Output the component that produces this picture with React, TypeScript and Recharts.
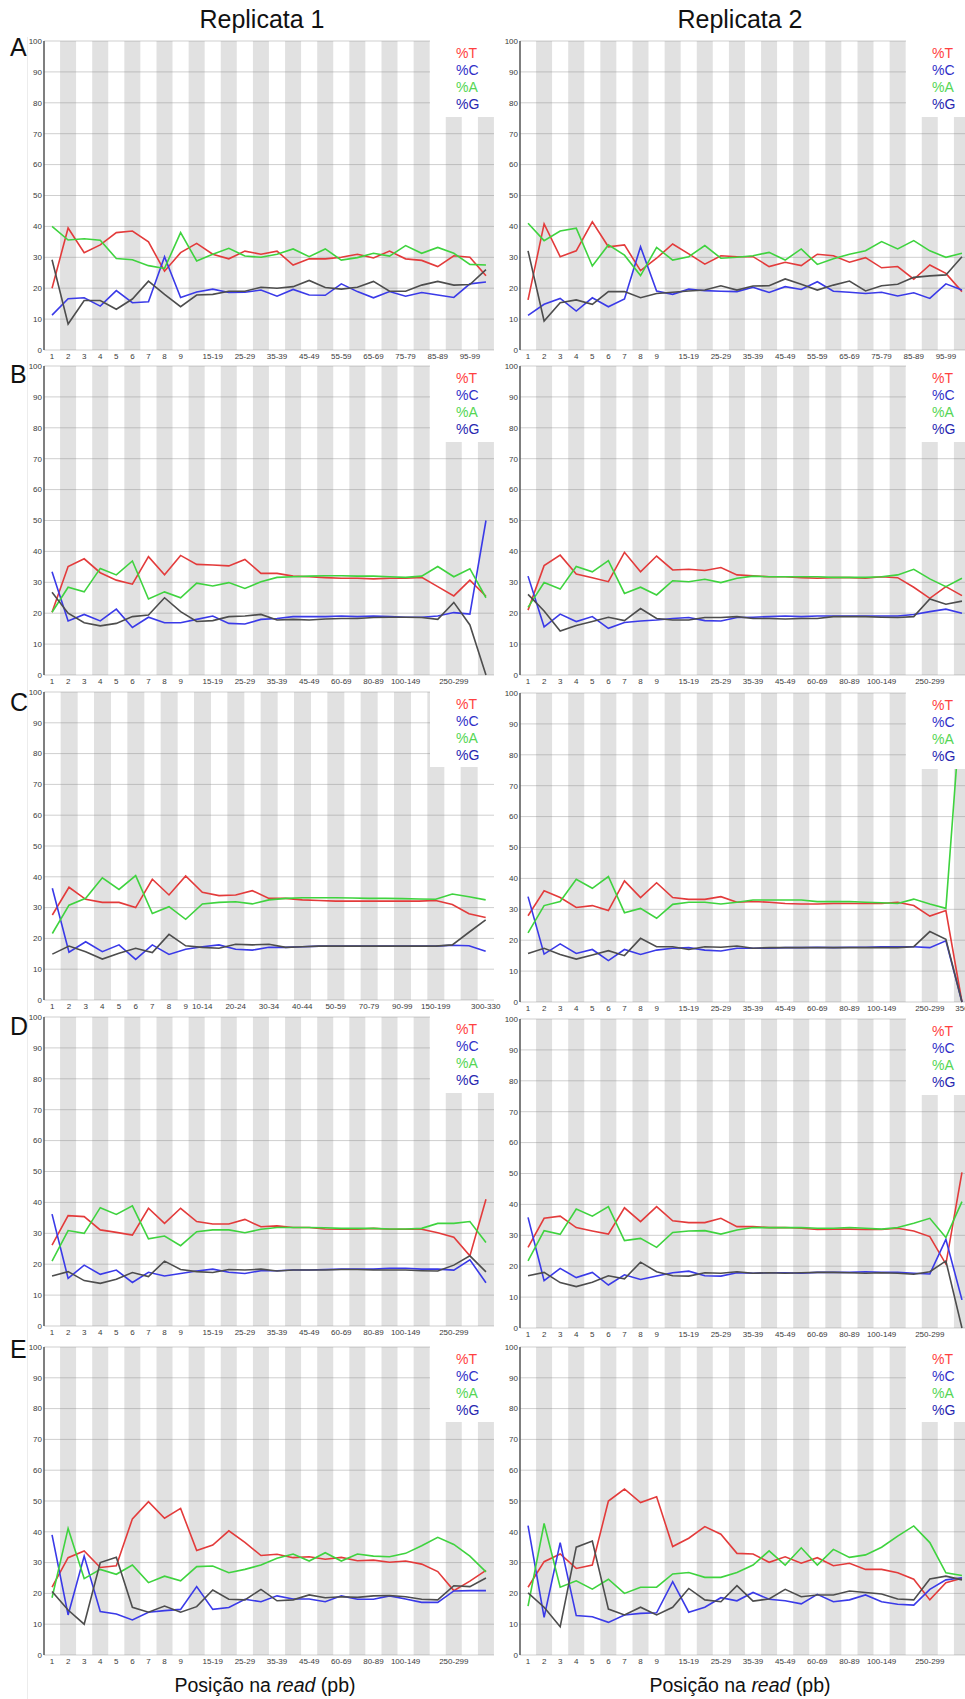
import { ComposedChart, Bar, Line, XAxis, YAxis, CartesianGrid } from 'recharts'

// position groups on the x axis
const posA = ['1', '2', '3', '4', '5', '6', '7', '8', '9', '10-14', '15-19', '20-24', '25-29', '30-34', '35-39', '40-44', '45-49', '50-54', '55-59', '60-64', '65-69', '70-74', '75-79', '80-84', '85-89', '90-94', '95-99', '100-101']
const ticksA = ['1', '2', '3', '4', '5', '6', '7', '8', '9', '15-19', '25-29', '35-39', '45-49', '55-59', '65-69', '75-79', '85-89', '95-99']

const posLong = ['1', '2', '3', '4', '5', '6', '7', '8', '9', '10-14', '15-19', '20-24', '25-29', '30-34', '35-39', '40-44', '45-49', '50-59', '60-69', '70-79', '80-89', '90-99', '100-149', '150-199', '200-249', '250-299', '300-349', '350-351']
const ticksLong = ['1', '2', '3', '4', '5', '6', '7', '8', '9', '15-19', '25-29', '35-39', '45-49', '60-69', '80-89', '100-149', '250-299']

const posC1 = ['1', '2', '3', '4', '5', '6', '7', '8', '9', '10-14', '15-19', '20-24', '25-29', '30-34', '35-39', '40-44', '45-49', '50-59', '60-69', '70-79', '80-89', '90-99', '100-149', '150-199', '200-249', '250-299', '300-330']
const ticksC1 = ['1', '2', '3', '4', '5', '6', '7', '8', '9', '10-14', '20-24', '30-34', '40-44', '50-59', '70-79', '90-99', '150-199', '300-330']

const posC2 = ['1', '2', '3', '4', '5', '6', '7', '8', '9', '10-14', '15-19', '20-24', '25-29', '30-34', '35-39', '40-44', '45-49', '50-59', '60-69', '70-79', '80-89', '90-99', '100-149', '150-199', '200-249', '250-299', '300-349', '350']
const ticksC2 = ['1', '2', '3', '4', '5', '6', '7', '8', '9', '15-19', '25-29', '35-39', '45-49', '60-69', '80-89', '100-149', '250-299', '350']

const yTicks = [0, 10, 20, 30, 40, 50, 60, 70, 80, 90, 100]

// A - replicata 1
const a1T = [20, 39.5, 31.5, 34, 38, 38.5, 35, 25.5, 31.5, 34.5, 31, 29.5, 32, 31, 32, 27.5, 29.5, 29.5, 30, 31, 29.8, 32, 29.5, 29, 27, 30.5, 30, 24]
const a1C = [11.3, 16.6, 16.9, 14.2, 19.2, 15.3, 15.6, 30.2, 17, 18.8, 19.7, 18.6, 18.7, 19.4, 17.4, 19.6, 17.8, 17.7, 21.4, 18.9, 16.9, 18.9, 17.4, 18.6, 17.8, 17, 21.4, 22]
const a1A = [40, 35.6, 36, 35.5, 29.6, 29.2, 27.3, 26.4, 38, 28.8, 31, 32.9, 30.4, 30, 31, 32.7, 30.2, 32.7, 29.1, 29.9, 31.3, 30.4, 33.8, 31.3, 33.2, 31.3, 27.7, 27.5]
const a1G = [29.2, 8.4, 16, 16, 13.2, 16.5, 22.3, 18, 14, 17.8, 18, 19, 19, 20.3, 20, 20.5, 22.5, 20.2, 19.7, 20.3, 22.2, 19, 19, 21, 22.2, 21, 21.2, 26]

// A - replicata 2
const a2T = [16.2, 40.8, 30.2, 32.1, 41.5, 33.4, 34, 25.7, 29.7, 34.3, 31.1, 27.8, 30.5, 30.2, 30.2, 27, 28.4, 27.3, 31, 30.5, 28.4, 29.9, 26.6, 27, 22.9, 27.5, 24.8, 18.9]
const a2C = [11.2, 14.8, 16.7, 12.6, 16.9, 14, 16.5, 33.4, 19.1, 18, 19.7, 19.2, 19, 18.9, 20.3, 18.6, 20.5, 19.6, 22.1, 19, 18.7, 18.3, 18.7, 17.5, 18.5, 16.7, 21.4, 19.4]
const a2A = [41, 35.4, 38.5, 39.4, 27.2, 34, 30.7, 24.1, 33.2, 29.1, 30.2, 33.8, 29.7, 30, 30.5, 31.6, 29.1, 32.7, 27.7, 29.5, 31, 32.1, 35.1, 32.7, 35.4, 32.1, 30, 31.3]
const a2G = [32.1, 9.4, 15.3, 16.2, 14.8, 18.9, 18.9, 16.9, 18.3, 18.7, 19.1, 19.4, 20.8, 19.4, 20.7, 20.8, 23, 21.3, 19.4, 21, 22.3, 19.1, 20.8, 21.3, 23.5, 24, 24.3, 30.2]

// B
const b1T = [20.3, 35.1, 37.6, 33.1, 30.7, 29.4, 38.3, 32.4, 38.7, 35.8, 35.6, 35.3, 37.4, 32.9, 32.9, 32, 31.8, 31.5, 31.3, 31.3, 31.1, 31.3, 31.3, 31.6, 28.6, 25.6, 30.7, 25.5]
const b1C = [33.4, 17.5, 19.6, 17.5, 21.3, 15.4, 18.7, 16.9, 16.9, 18, 19.1, 16.7, 16.5, 18, 18.3, 18.9, 18.9, 18.9, 19.1, 18.9, 19.1, 18.9, 18.7, 18.7, 19.1, 20.2, 19.7, 50]
const b1A = [20.3, 28.4, 26.9, 34.5, 32.4, 36.9, 24.6, 26.9, 25, 29.7, 28.8, 29.9, 28, 30.2, 31.6, 31.8, 32, 32.1, 32.1, 32, 32, 31.8, 31.6, 32, 35.1, 31.8, 34.4, 25]
const b1G = [26.8, 20, 16.9, 15.9, 16.7, 18.9, 19.4, 25, 20.5, 17.3, 17.6, 18.9, 19.1, 19.6, 17.8, 18, 17.8, 18.1, 18.3, 18.3, 18.6, 18.7, 18.7, 18.6, 18, 23.5, 16.2, 0]

const b2T = [21, 35.4, 38.8, 32.7, 31.5, 30.2, 39.7, 33.4, 38.5, 34, 34.2, 33.8, 34.8, 32.4, 32.1, 31.8, 31.8, 31.5, 31.3, 31.5, 31.5, 31.3, 31.8, 31.5, 28.4, 24.8, 28.6, 25.7]
const b2C = [32, 15.6, 19.7, 17.3, 18.9, 15.1, 17, 17.5, 17.8, 18.3, 18.6, 17.6, 17.5, 18.6, 18.7, 18.9, 19.1, 18.9, 19.1, 19.1, 19.1, 19.1, 19.1, 19.1, 19.6, 20.5, 21.3, 20]
const b2A = [21.9, 29.9, 27.8, 35.1, 33.4, 37, 26.4, 28.4, 25.9, 30.5, 30.2, 31, 29.9, 31.3, 32, 31.8, 31.8, 31.8, 31.8, 31.6, 31.6, 31.6, 31.8, 32.4, 34.2, 31.1, 28.6, 31.3]
const b2G = [26.1, 20.7, 14.2, 16, 17.3, 18.7, 17.6, 21.5, 18.3, 17.8, 17.8, 18.6, 18.6, 18.9, 18.3, 18.3, 18.1, 18.3, 18.3, 18.9, 18.9, 18.9, 18.7, 18.6, 18.9, 24.6, 22.9, 23.9]

// C
const c1T = [27.6, 36.6, 32.7, 31.7, 31.7, 30, 39.2, 34.1, 40.3, 35, 33.9, 34.1, 35.5, 33, 33, 32.5, 32.3, 32.1, 32.1, 32.1, 32.1, 32.1, 32.1, 32.3, 31, 28, 26.8]
const c1C = [36.3, 15.5, 18.9, 15.7, 17.9, 13.2, 17.9, 14.8, 16.5, 17.3, 17.9, 16.5, 16.2, 17.1, 17.1, 17.3, 17.5, 17.5, 17.5, 17.5, 17.5, 17.5, 17.5, 17.5, 17.8, 17.6, 15.8]
const c1A = [21.6, 30.8, 33, 39.7, 35.9, 40.4, 28.1, 30.3, 26.2, 31.2, 31.7, 31.9, 31.2, 32.5, 33, 33.2, 33.2, 33.2, 33.1, 33, 33, 32.9, 32.8, 32.7, 34.4, 33.5, 32.5]
const c1G = [14.9, 17.5, 15.7, 13.3, 15.2, 16.8, 15.4, 21.3, 17.6, 17.1, 16.8, 18.1, 17.9, 18.1, 17.1, 17.3, 17.5, 17.5, 17.5, 17.5, 17.5, 17.5, 17.5, 17.5, 17.9, 22, 26]

const c2T = [27.9, 36, 33.8, 30.6, 31.2, 29.6, 39.2, 33.8, 38.6, 33.8, 33.2, 33.2, 34.1, 32.3, 32.5, 32.3, 31.9, 31.7, 31.7, 31.9, 31.9, 31.9, 31.9, 32.3, 31.2, 27.8, 29.6, 0]
const c2C = [34.1, 15.5, 18.8, 15.7, 17, 13.4, 17, 15.4, 16.8, 17.4, 17.6, 16.8, 16.5, 17.4, 17.4, 17.4, 17.6, 17.6, 17.7, 17.6, 17.7, 17.7, 17.9, 17.9, 17.9, 17.6, 19.8, 0]
const c2A = [22.4, 31.2, 32.5, 39.7, 36.8, 40.6, 28.9, 30.3, 27.1, 31.6, 32.3, 32.3, 31.7, 32.3, 33, 33, 33, 33, 32.5, 32.5, 32.5, 32.3, 32.1, 31.9, 33.3, 31.7, 30.3, 100]
const c2G = [15.7, 17.4, 15.4, 13.9, 15.2, 16.6, 15, 20.6, 17.9, 17.9, 17, 17.9, 17.7, 18.1, 17.4, 17.6, 17.6, 17.6, 17.6, 17.6, 17.6, 17.6, 17.6, 17.6, 17.9, 22.8, 20.3, 0]

// D
const d1T = [26.2, 35.7, 35.4, 31.1, 30.3, 29.4, 38.1, 33.2, 38.1, 33.8, 33, 33, 34.5, 32.1, 32.4, 31.9, 31.9, 31.4, 31.3, 31.3, 31.6, 31.3, 31.3, 31.3, 30.2, 28.7, 22.7, 41]
const d1C = [36.2, 15.4, 19.7, 16.7, 18.1, 14.1, 17.4, 16.2, 17, 17.8, 18.4, 17.4, 17, 17.9, 17.9, 18.1, 18.1, 18.3, 18.4, 18.4, 18.4, 18.7, 18.7, 18.4, 18.4, 18.1, 21.4, 14]
const d1A = [21, 30.9, 30, 38.3, 36.1, 38.9, 28.2, 29.1, 26, 30.5, 31.1, 31.1, 30.2, 31.3, 31.9, 31.9, 31.9, 31.8, 31.6, 31.6, 31.6, 31.4, 31.4, 31.6, 33.2, 33.2, 33.8, 27]
const d1G = [16.2, 17.6, 14.7, 13.8, 15.1, 17.3, 16, 21, 18.3, 17.6, 17.3, 18.3, 18.1, 18.4, 17.8, 18.1, 18.1, 18.1, 18.3, 18.3, 18.1, 18.1, 18.1, 17.9, 17.8, 19.7, 22.7, 17.5]

const d2T = [26.1, 35.5, 36.2, 32.5, 31.4, 30.4, 38.9, 34.4, 39.3, 34.7, 34.1, 34.1, 35.5, 32.8, 32.8, 32.5, 32.5, 32.3, 31.9, 32, 32, 31.9, 31.9, 32.3, 31.4, 29.6, 20.7, 50.4]
const d2C = [35.8, 15.3, 19.3, 16.3, 18, 13.9, 17.2, 15.7, 16.8, 17.9, 18.4, 16.9, 16.8, 17.9, 17.7, 17.9, 17.9, 17.7, 18, 18, 18, 18.2, 18, 18, 17.7, 17.5, 28.7, 9.1]
const d2A = [21.7, 31.5, 30.3, 38.5, 36.2, 39.3, 28.3, 29, 26.1, 30.9, 31.4, 31.5, 30.4, 31.7, 32.5, 32.5, 32.5, 32.5, 32.3, 32.3, 32.5, 32.3, 32, 32.5, 33.9, 35.5, 29.3, 40.9]
const d2G = [16.9, 18, 14.7, 13.4, 14.8, 16.9, 15.9, 21.3, 18.2, 16.9, 16.8, 17.9, 17.7, 18.2, 17.7, 17.9, 17.7, 17.9, 18, 18, 17.9, 17.7, 17.9, 17.7, 17.4, 18.2, 21.7, 0]

// E
const e1T = [22, 31.6, 33.8, 28.4, 29, 44.2, 49.8, 44.4, 47.6, 33.9, 35.7, 40.3, 36.6, 32.3, 32.7, 31.6, 31.9, 31.1, 31.7, 30.6, 30.8, 30.1, 30.5, 29.5, 27.1, 20.9, 24, 27.5]
const e1C = [39, 13, 32.1, 14.1, 13.3, 11.4, 13.9, 14.4, 14.8, 22.2, 14.8, 15.4, 18.1, 17.3, 19.2, 18.2, 18.2, 17.3, 19.2, 18.1, 18.1, 19.2, 18.2, 17.1, 17.1, 20.8, 20.9, 20.9]
const e1A = [18.6, 41.1, 24.8, 27.8, 26.2, 29.2, 23.5, 25.6, 24.1, 28.7, 28.9, 26.7, 27.8, 29.2, 31.4, 32.8, 30.5, 33.2, 30.5, 32.8, 32.1, 31.9, 33, 35.5, 38.2, 35.9, 32.1, 27]
const e1G = [20.6, 14.6, 10, 30, 31.7, 15.5, 13.9, 15.9, 13.9, 15.7, 21.1, 18.1, 17.9, 21.3, 17.6, 17.9, 19.5, 18.6, 18.9, 18.7, 19.2, 19.3, 18.9, 18.1, 17.9, 22.5, 22.2, 25]

const e2T = [22, 30.3, 32.8, 28.1, 29.2, 50, 53.9, 49.5, 51.4, 35.2, 37.9, 41.7, 39.2, 33, 32.8, 30.1, 31.9, 29.8, 31.6, 29, 29.8, 27.8, 27.8, 26.7, 24.6, 17.9, 23.5, 24.9]
const e2C = [42, 12.2, 36.5, 12.8, 12.4, 10.6, 13, 13.5, 13.7, 23.8, 13.9, 15.5, 18.6, 17.6, 20.3, 18.1, 17.6, 16.6, 19.7, 17.3, 17.9, 19.5, 17.3, 16.5, 16.2, 21.3, 24.4, 25.1]
const e2A = [15.9, 42.7, 22, 24.1, 21.4, 24.6, 20, 22, 22, 26.3, 26.8, 25.2, 25.2, 26.8, 29.2, 33.8, 29.2, 34.8, 29.2, 34.3, 31.7, 32.5, 35, 38.6, 41.9, 36.5, 26.7, 25.8]
const e2G = [20.2, 15.5, 9.2, 35, 37, 14.9, 13, 15.5, 13, 15.5, 21.6, 17.9, 17.3, 22.5, 17.5, 18.2, 21.3, 18.9, 19.5, 19.5, 20.8, 20.3, 19.8, 18.2, 17.9, 24.7, 25.6, 24.4]

const FONT = '"Liberation Sans", Arial, sans-serif'
const tickStyle = { fontSize: 8, fill: '#3a3a3a', fontFamily: FONT }

const legendItems = [
  { label: '%T', color: '#ff4040' },
  { label: '%C', color: '#2f2fc8' },
  { label: '%A', color: '#55d655' },
  { label: '%G', color: '#2626b0' },
]

type PanelProps = {
  x: number
  top: number
  bottom: number
  cats: string[]
  ticks: string[]
  t: number[]
  c: number[]
  a: number[]
  g: number[]
}

const Panel = ({ x, top, bottom, cats, ticks, t, c, a, g }: PanelProps) => {
  const rows = cats.map((pos, i) => ({ pos, band: i % 2 === 1 ? 100 : 0, t: t[i], c: c[i], a: a[i], g: g[i] }))
  const plotH = bottom - top
  const W = 480
  const H = plotH + 6 + 14
  return (
    <div style={{ position: 'absolute', left: x - 30, top: top - 6, width: W, height: H }}>
      <ComposedChart width={W} height={H} data={rows} margin={{ top: 6, right: 0, bottom: 0, left: 0 }} barCategoryGap={0} barGap={0}>
        <CartesianGrid vertical={false} stroke="#cfcfcf" />
        <XAxis
          dataKey="pos"
          ticks={ticks}
          interval={0}
          tickLine={false}
          axisLine={false}
          height={14}
          tickSize={2}
          tickMargin={1}
          tick={tickStyle}
        />
        <YAxis
          domain={[0, 100]}
          ticks={yTicks}
          interval={0}
          width={30}
          tickLine={false}
          tickSize={0}
          tickMargin={2}
          axisLine={{ stroke: '#555', strokeWidth: 1.5 }}
          tick={tickStyle}
        />
        <Bar dataKey="band" fill="#808080" fillOpacity={0.24} isAnimationActive={false} />
        <Line type="linear" dataKey="t" stroke="#e33b3b" strokeWidth={1.6} dot={false} activeDot={false} isAnimationActive={false} />
        <Line type="linear" dataKey="c" stroke="#3a3ae8" strokeWidth={1.6} dot={false} activeDot={false} isAnimationActive={false} />
        <Line type="linear" dataKey="a" stroke="#3fd33f" strokeWidth={1.6} dot={false} activeDot={false} isAnimationActive={false} />
        <Line type="linear" dataKey="g" stroke="#4d4d4d" strokeWidth={1.6} dot={false} activeDot={false} isAnimationActive={false} />
      </ComposedChart>
      <div
        style={{
          position: 'absolute',
          left: 416,
          top: 0,
          width: W - 416,
          height: 6 + Math.round(plotH * 0.245),
          background: '#fff',
          boxSizing: 'border-box',
          paddingLeft: 26,
          paddingTop: 10,
          fontFamily: FONT,
          fontSize: 14,
          lineHeight: '17px',
        }}
      >
        {legendItems.map((it) => (
          <div key={it.label} style={{ color: it.color }}>{it.label}</div>
        ))}
      </div>
    </div>
  )
}

const letters = [
  { ch: 'A', top: 35 },
  { ch: 'B', top: 362 },
  { ch: 'C', top: 690 },
  { ch: 'D', top: 1014 },
  { ch: 'E', top: 1337 },
]

const big = { position: 'absolute' as const, fontFamily: FONT, fontSize: 25, lineHeight: '25px', color: '#111', whiteSpace: 'nowrap' as const }

export default function App() {
  return (
    <div style={{ position: 'absolute', left: 0, top: 0, width: 965, height: 1699, overflow: 'hidden', background: '#fff', fontFamily: FONT }}>
      <style>{'.recharts-surface { overflow: visible; }'}</style>
      <div style={{ position: 'absolute', left: 27, top: 37, width: 0, height: 1662, borderLeft: '1px solid #ececec' }} />
      <div style={{ ...big, left: 162, width: 200, top: 7, textAlign: 'center' }}>Replicata 1</div>
      <div style={{ ...big, left: 640, width: 200, top: 7, textAlign: 'center' }}>Replicata 2</div>
      {letters.map((l) => (
        <div key={l.ch} style={{ ...big, left: 10, top: l.top }}>{l.ch}</div>
      ))}

      <Panel x={44} top={41} bottom={350} cats={posA} ticks={ticksA} t={a1T} c={a1C} a={a1A} g={a1G} />
      <Panel x={520} top={41} bottom={350} cats={posA} ticks={ticksA} t={a2T} c={a2C} a={a2A} g={a2G} />
      <Panel x={44} top={366} bottom={675} cats={posLong} ticks={ticksLong} t={b1T} c={b1C} a={b1A} g={b1G} />
      <Panel x={520} top={366} bottom={675} cats={posLong} ticks={ticksLong} t={b2T} c={b2C} a={b2A} g={b2G} />
      <Panel x={44} top={692} bottom={1000} cats={posC1} ticks={ticksC1} t={c1T} c={c1C} a={c1A} g={c1G} />
      <Panel x={520} top={693} bottom={1002} cats={posC2} ticks={ticksC2} t={c2T} c={c2C} a={c2A} g={c2G} />
      <Panel x={44} top={1017} bottom={1326} cats={posLong} ticks={ticksLong} t={d1T} c={d1C} a={d1A} g={d1G} />
      <Panel x={520} top={1019} bottom={1328} cats={posLong} ticks={ticksLong} t={d2T} c={d2C} a={d2A} g={d2G} />
      <Panel x={44} top={1347} bottom={1655} cats={posLong} ticks={ticksLong} t={e1T} c={e1C} a={e1A} g={e1G} />
      <Panel x={520} top={1347} bottom={1655} cats={posLong} ticks={ticksLong} t={e2T} c={e2C} a={e2A} g={e2G} />

      <div style={{ ...big, fontSize: 19.5, lineHeight: '19.5px', left: 115, width: 300, top: 1676, textAlign: 'center' }}>
        Posição na <i>read</i> (pb)
      </div>
      <div style={{ ...big, fontSize: 19.5, lineHeight: '19.5px', left: 590, width: 300, top: 1676, textAlign: 'center' }}>
        Posição na <i>read</i> (pb)
      </div>
    </div>
  )
}
